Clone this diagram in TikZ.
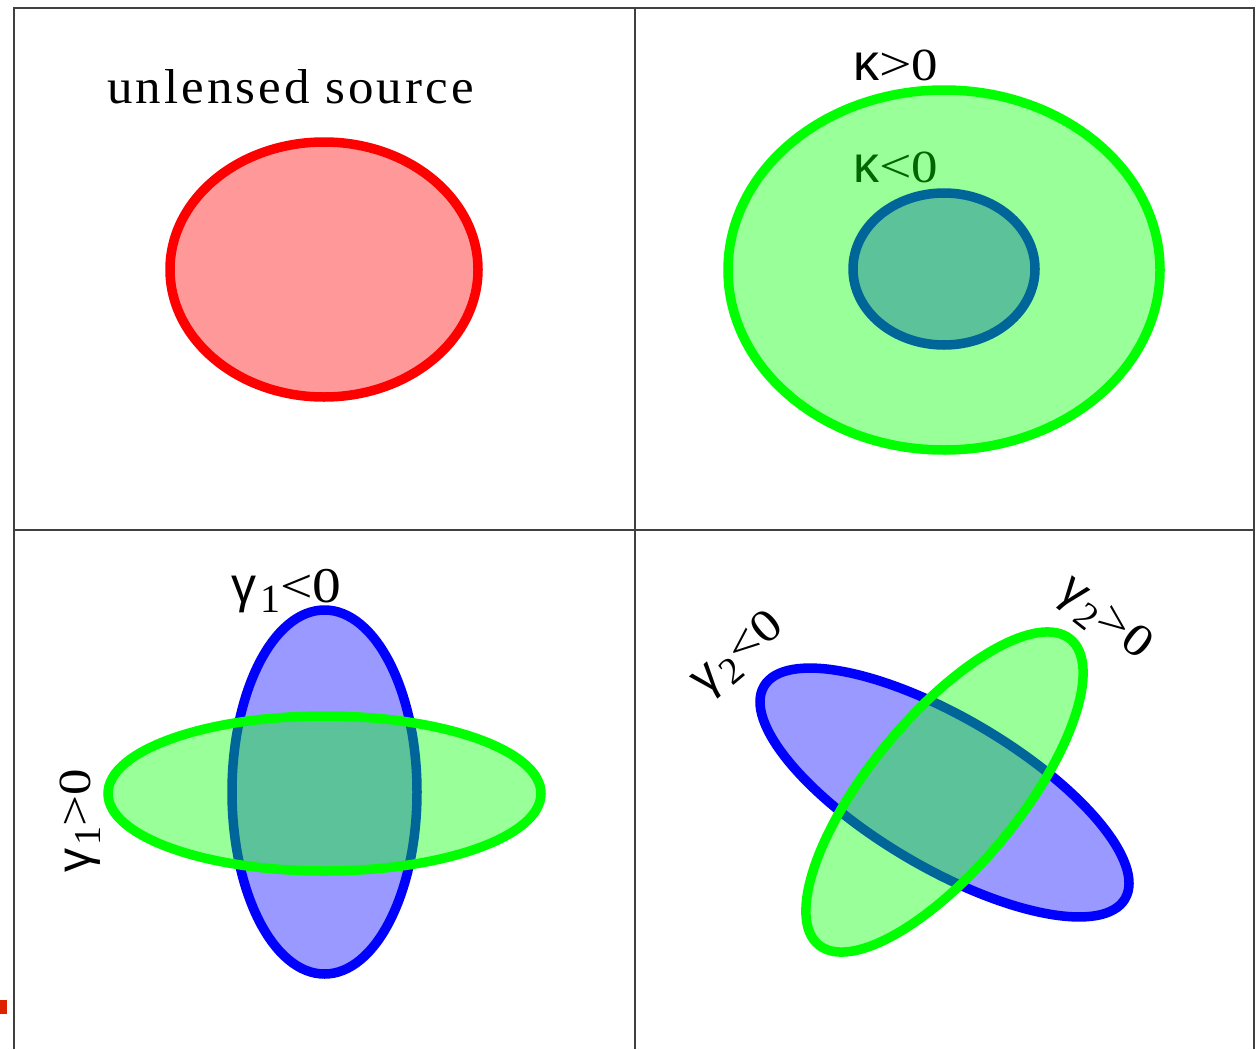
\documentclass[tikz,border=0pt]{standalone}
\usepackage{fontspec}
\setmainfont{Liberation Serif}
\newfontfamily\symf{Liberation Sans}
\newfontfamily\spacedf[LetterSpace=6]{Liberation Serif}
\definecolor{gfull}{RGB}{0,255,0}
\definecolor{bfull}{RGB}{0,0,255}
\definecolor{rfull}{RGB}{255,0,0}
\definecolor{markred}{RGB}{221,34,0}
\newcommand\greekch[2]{{\symf\fontsize{#1}{#1}\selectfont #2}}
\newcommand\relch[2]{{\fontsize{#1}{#1}\selectfont\scalebox{1.2}[1]{#2}}}
\newcommand\zeroch[1]{{\fontsize{#1}{#1}\selectfont\scalebox{1.15}[1]{0}}}
\newcommand\subch[2]{\raisebox{-10pt}{\fontsize{#1}{#1}\selectfont #2}}
\tikzset{
  gridline/.style={line width=1.4pt, draw=black!75},
  blob/.style={line width=9.5pt},
  lab/.style={inner sep=0pt, text=black},
}
\begin{document}
\begin{tikzpicture}[x=1pt,y=-1pt]
\useasboundingbox (0,0) rectangle (1257,1049);
% frame
\draw[gridline] (14,1049) -- (14,8) -- (1254,8) -- (1254,1049);
\draw[gridline] (635,8) -- (635,1049);
\draw[gridline] (14,530) -- (1254,530);
\fill[markred] (0,1000) rectangle (7,1014);

% top-left
\node[lab, anchor=base west] (title) at (107,103)
  {\scalebox{1.04}[1]{\fontsize{49}{49}\spacedf unlensed source}};
\draw[blob, draw=rfull, fill=rfull, fill opacity=0.4] (324,269.5) ellipse [x radius=154pt, y radius=127.5pt];

% top-right
\node[lab, anchor=base west] (kneg) at (853,182)
  {\greekch{52}{κ}\relch{48}{<}\zeroch{46}};
\node[lab, anchor=base west] (kpos) at (853,80)
  {\greekch{52}{κ}\relch{48}{>}\zeroch{46}};
\draw[blob, draw=bfull, fill=bfull, fill opacity=0.4] (944,269) ellipse [x radius=91pt, y radius=76pt];
\draw[blob, draw=gfull, fill=gfull, fill opacity=0.4] (944,270) ellipse [x radius=216pt, y radius=180pt];

% bottom-left
\node[lab, anchor=base west] (g1neg) at (231,602)
  {\greekch{50}{γ}\hspace{4pt}\subch{40}{1}\relch{48}{<}\zeroch{50}};
\node[lab, anchor=base, rotate=90] (g1pos) at (90,821)
  {\greekch{48}{γ}\hspace{3pt}\subch{38}{1}\relch{46}{>}\zeroch{46}};
\draw[blob, draw=bfull, fill=bfull, fill opacity=0.4] (324.5,792) ellipse [x radius=92.5pt, y radius=182pt];
\draw[blob, draw=gfull, fill=gfull, fill opacity=0.4] (324.5,793.5) ellipse [x radius=216.5pt, y radius=77.5pt];

% bottom-right
\node[lab, anchor=center, rotate=40] (g2neg) at (739,655)
  {\greekch{48}{γ}\hspace{3pt}\subch{38}{2}\hspace{1pt}\relch{46}{<}\zeroch{46}};
\node[lab, anchor=center, rotate=-38] (g2pos) at (1104,620)
  {\greekch{48}{γ}\hspace{3pt}\subch{38}{2}\hspace{1pt}\relch{46}{>}\zeroch{46}};
\draw[blob, draw=bfull, fill=bfull, fill opacity=0.4, rotate around={-30.5:(944.5,792.5)}] (944.5,792.5) ellipse [x radius=209.5pt, y radius=75pt];
\draw[blob, draw=gfull, fill=gfull, fill opacity=0.4, rotate around={50.5:(944.5,792)}] (944.5,792) ellipse [x radius=198pt, y radius=75pt];
\end{tikzpicture}
\end{document}
